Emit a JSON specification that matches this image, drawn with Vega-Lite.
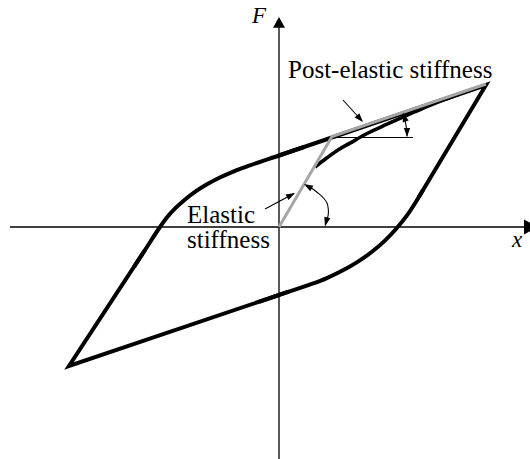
{
  "$schema": "https://vega.github.io/schema/vega-lite/v6.json",
  "width": 530,
  "height": 459,
  "autosize": {"type": "none"},
  "padding": 0,
  "background": "white",
  "view": {"stroke": null},
  "config": {"font": "Liberation Serif, Times New Roman, serif"},
  "datasets": {
    "axes": [
      {"axis": "x", "x": -269, "F": 0, "x2": 246, "F2": 0},
      {"axis": "F", "x": 0, "F": -232, "x2": 0, "F2": 201}
    ],
    "leaders": [
      {"name": "horizontal reference", "x": 53, "F": 89.5, "x2": 134, "F2": 89.5},
      {"name": "elastic pointer", "x": -14, "F": 18, "x2": 15, "F2": 33.5},
      {"name": "post-elastic pointer", "x": 64, "F": 127, "x2": 83, "F2": 106}
    ],
    "loop": [
      {"segment": "upper-peak", "i": 1, "x": 0, "F": 71.5},
      {"segment": "upper-peak", "i": 2, "x": 207, "F": 142},
      {"segment": "upper-peak", "i": 3, "x": 140, "F": 30.3},
      {"segment": "lower-peak", "i": 1, "x": 10, "F": -64.6},
      {"segment": "lower-peak", "i": 2, "x": -210, "F": -139},
      {"segment": "lower-peak", "i": 3, "x": -134, "F": -23},
      {"segment": "knee-left", "i": 1, "x": -145, "F": -39.8},
      {"segment": "knee-left", "i": 2, "x": -134, "F": -23},
      {"segment": "knee-left", "i": 3, "x": -119, "F": 0},
      {"segment": "knee-left", "i": 4, "x": -111.9, "F": 9.7},
      {"segment": "knee-left", "i": 5, "x": -103.6, "F": 18.8},
      {"segment": "knee-left", "i": 6, "x": -94.2, "F": 27.3},
      {"segment": "knee-left", "i": 7, "x": -83.7, "F": 35.3},
      {"segment": "knee-left", "i": 8, "x": -72, "F": 42.7},
      {"segment": "knee-left", "i": 9, "x": -59.1, "F": 49.5},
      {"segment": "knee-left", "i": 10, "x": -45.1, "F": 55.7},
      {"segment": "knee-left", "i": 11, "x": -30, "F": 61.3},
      {"segment": "knee-left", "i": 12, "x": 0, "F": 71.5},
      {"segment": "knee-left", "i": 13, "x": 25, "F": 80},
      {"segment": "knee-right", "i": 1, "x": -20, "F": -74.8},
      {"segment": "knee-right", "i": 2, "x": 0, "F": -68},
      {"segment": "knee-right", "i": 3, "x": 30, "F": -57.9},
      {"segment": "knee-right", "i": 4, "x": 47.3, "F": -51.3},
      {"segment": "knee-right", "i": 5, "x": 63.5, "F": -43.6},
      {"segment": "knee-right", "i": 6, "x": 78.6, "F": -34.9},
      {"segment": "knee-right", "i": 7, "x": 92.6, "F": -25},
      {"segment": "knee-right", "i": 8, "x": 105.4, "F": -14.1},
      {"segment": "knee-right", "i": 9, "x": 117, "F": -2},
      {"segment": "knee-right", "i": 10, "x": 127.6, "F": 11.1},
      {"segment": "knee-right", "i": 11, "x": 137, "F": 25.3},
      {"segment": "knee-right", "i": 12, "x": 144, "F": 37}
    ],
    "reloading": [
      {"x": 36, "F": 60},
      {"x": 48, "F": 69.2},
      {"x": 59, "F": 77},
      {"x": 71, "F": 83.9},
      {"x": 88, "F": 93.5},
      {"x": 108, "F": 102.8},
      {"x": 121, "F": 108.7},
      {"x": 136, "F": 115.3},
      {"x": 151, "F": 121.7},
      {"x": 166, "F": 127.6},
      {"x": 180, "F": 132.8}
    ],
    "bilinear": [
      {"i": 1, "x": 0, "F": 0},
      {"i": 2, "x": 53, "F": 90.5},
      {"i": 3, "x": 207, "F": 143}
    ],
    "arcs": [
      {"arc": "post-elastic", "i": 1, "x": 128.0, "F": 90.8},
      {"arc": "post-elastic", "i": 2, "x": 127.7, "F": 96.0},
      {"arc": "post-elastic", "i": 3, "x": 127.1, "F": 101.2},
      {"arc": "post-elastic", "i": 4, "x": 126.1, "F": 106.4},
      {"arc": "post-elastic", "i": 5, "x": 124.7, "F": 111.4},
      {"arc": "post-elastic", "i": 6, "x": 124.1, "F": 113.3},
      {"arc": "elastic", "i": 1, "x": 27, "F": 41},
      {"arc": "elastic", "i": 2, "x": 33, "F": 38.5},
      {"arc": "elastic", "i": 3, "x": 39.3, "F": 33.7},
      {"arc": "elastic", "i": 4, "x": 44.5, "F": 29},
      {"arc": "elastic", "i": 5, "x": 48, "F": 24},
      {"arc": "elastic", "i": 6, "x": 49.3, "F": 18},
      {"arc": "elastic", "i": 7, "x": 49.2, "F": 12},
      {"arc": "elastic", "i": 8, "x": 47.7, "F": 6.5},
      {"arc": "elastic", "i": 9, "x": 46.3, "F": 1.5}
    ],
    "heads": [
      {"name": "x axis", "x": 258.5, "F": 0},
      {"name": "F axis", "x": 0, "F": 210},
      {"name": "elastic pointer", "x": 16, "F": 34},
      {"name": "post-elastic pointer", "x": 84, "F": 105},
      {"name": "post-elastic arc top", "x": 123.8, "F": 114},
      {"name": "post-elastic arc bottom", "x": 128, "F": 90},
      {"name": "elastic arc top", "x": 25, "F": 43},
      {"name": "elastic arc bottom", "x": 46, "F": 0.8}
    ],
    "labels": [
      {"text": "Post-elastic stiffness", "x": 9, "F": 149},
      {"text": "Elastic", "x": -92, "F": 4.3},
      {"text": "stiffness", "x": -92, "F": -20.5}
    ],
    "axisLabels": [
      {"text": "F", "x": -27, "F": 204.5},
      {"text": "x", "x": 233, "F": -20}
    ]
  },
  "encoding": {
    "x": {"field": "x", "type": "quantitative", "scale": {"domain": [-279, 251], "nice": false, "zero": false}, "axis": null},
    "y": {"field": "F", "type": "quantitative", "scale": {"domain": [-232, 227], "nice": false, "zero": false}, "axis": null}
  },
  "layer": [
    {
      "data": {"name": "axes"},
      "mark": {"type": "rule", "stroke": "black", "strokeWidth": 1.3},
      "encoding": {"x2": {"field": "x2"}, "y2": {"field": "F2"}}
    },
    {
      "data": {"name": "leaders"},
      "mark": {"type": "rule", "stroke": "black", "strokeWidth": 1.1},
      "encoding": {"x2": {"field": "x2"}, "y2": {"field": "F2"}}
    },
    {
      "data": {"name": "loop"},
      "transform": [{"filter": "indexof(datum.segment, 'peak') >= 0"}],
      "mark": {"type": "line", "stroke": "black", "strokeWidth": 4, "strokeJoin": "miter", "strokeMiterLimit": 10, "strokeCap": "butt"},
      "encoding": {"detail": {"field": "segment"}, "order": {"field": "i"}}
    },
    {
      "data": {"name": "loop"},
      "transform": [{"filter": "indexof(datum.segment, 'knee') >= 0"}],
      "mark": {"type": "line", "stroke": "black", "strokeWidth": 4, "interpolate": "monotone", "strokeCap": "butt"},
      "encoding": {"detail": {"field": "segment"}, "order": {"field": "i"}}
    },
    {
      "data": {"name": "reloading"},
      "mark": {"type": "line", "stroke": "black", "strokeWidth": 3.6, "interpolate": "monotone", "strokeCap": "butt"},
      "encoding": {}
    },
    {
      "data": {"name": "bilinear"},
      "mark": {"type": "line", "stroke": "#a6a6a6", "strokeWidth": 3, "strokeJoin": "miter"},
      "encoding": {"order": {"field": "i"}}
    },
    {
      "data": {"name": "arcs"},
      "mark": {"type": "line", "stroke": "black", "strokeWidth": 1.1, "interpolate": "cardinal"},
      "encoding": {"detail": {"field": "arc"}, "order": {"field": "i"}}
    },
    {
      "data": {"name": "heads"},
      "transform": [{"filter": "datum.name === 'x axis'"}],
      "mark": {"type": "point", "shape": "M0,0L-1,1.8L1,1.8Z", "size": 225, "angle": 90, "filled": true, "color": "black", "opacity": 1, "strokeWidth": 0}
    },
    {
      "data": {"name": "heads"},
      "transform": [{"filter": "datum.name === 'F axis'"}],
      "mark": {"type": "point", "shape": "M0,0L-1,1.8L1,1.8Z", "size": 144, "angle": 0, "filled": true, "color": "black", "opacity": 1, "strokeWidth": 0}
    },
    {
      "data": {"name": "heads"},
      "transform": [{"filter": "datum.name === 'elastic pointer'"}],
      "mark": {"type": "point", "shape": "M0,0L-0.7,2L0.7,2Z", "size": 81, "angle": 62, "filled": true, "color": "black", "opacity": 1, "strokeWidth": 0}
    },
    {
      "data": {"name": "heads"},
      "transform": [{"filter": "datum.name === 'post-elastic pointer'"}],
      "mark": {"type": "point", "shape": "M0,0L-0.7,2L0.7,2Z", "size": 81, "angle": 138, "filled": true, "color": "black", "opacity": 1, "strokeWidth": 0}
    },
    {
      "data": {"name": "heads"},
      "transform": [{"filter": "datum.name === 'post-elastic arc top'"}],
      "mark": {"type": "point", "shape": "M0,0L-0.7,2L0.7,2Z", "size": 81, "angle": 341, "filled": true, "color": "black", "opacity": 1, "strokeWidth": 0}
    },
    {
      "data": {"name": "heads"},
      "transform": [{"filter": "datum.name === 'post-elastic arc bottom'"}],
      "mark": {"type": "point", "shape": "M0,0L-0.7,2L0.7,2Z", "size": 81, "angle": 180, "filled": true, "color": "black", "opacity": 1, "strokeWidth": 0}
    },
    {
      "data": {"name": "heads"},
      "transform": [{"filter": "datum.name === 'elastic arc top'"}],
      "mark": {"type": "point", "shape": "M0,0L-0.7,2L0.7,2Z", "size": 81, "angle": 300, "filled": true, "color": "black", "opacity": 1, "strokeWidth": 0}
    },
    {
      "data": {"name": "heads"},
      "transform": [{"filter": "datum.name === 'elastic arc bottom'"}],
      "mark": {"type": "point", "shape": "M0,0L-0.7,2L0.7,2Z", "size": 81, "angle": 195, "filled": true, "color": "black", "opacity": 1, "strokeWidth": 0}
    },
    {
      "data": {"name": "labels"},
      "mark": {"type": "text", "font": "Liberation Serif, Times New Roman, serif", "fontSize": 25, "align": "left", "baseline": "alphabetic", "color": "black"},
      "encoding": {"text": {"field": "text"}}
    },
    {
      "data": {"name": "axisLabels"},
      "mark": {"type": "text", "font": "Liberation Serif, Times New Roman, serif", "fontStyle": "italic", "fontSize": 23, "align": "left", "baseline": "alphabetic", "color": "black"},
      "encoding": {"text": {"field": "text"}}
    }
  ]
}
